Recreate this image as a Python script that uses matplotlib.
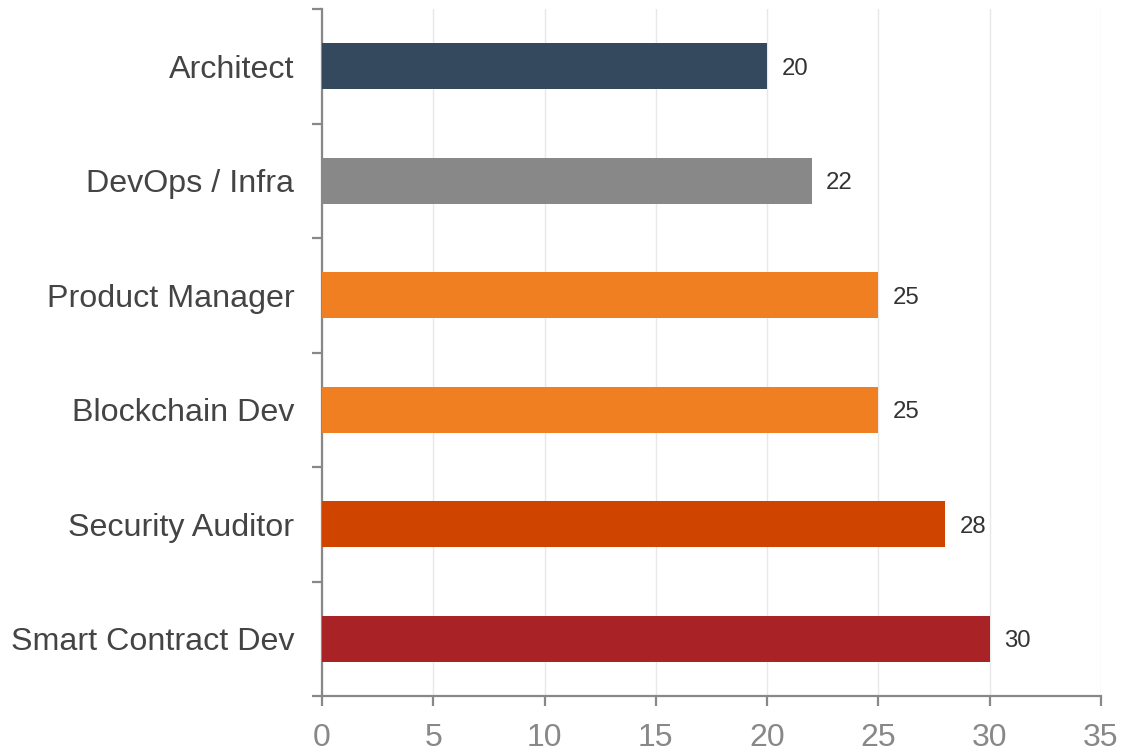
import matplotlib
matplotlib.use("Agg")
import matplotlib.pyplot as plt

roles = ["Architect", "DevOps / Infra", "Product Manager", "Blockchain Dev",
         "Security Auditor", "Smart Contract Dev"]
values = [20, 22, 25, 25, 28, 30]
colors = ["#34495e", "#888888", "#f07f22", "#f07f22", "#cf4500", "#a82226"]
x_ticks = [0, 5, 10, 15, 20, 25, 30, 35]

plt.rcParams["font.family"] = ["Liberation Sans", "DejaVu Sans"]

W, H = 1124, 751
fig = plt.figure(figsize=(W / 100, H / 100), dpi=100)
ax = fig.add_axes([322 / W, 1 - 696 / H, (1101 - 322) / W, (696 - 9) / H])

n = len(roles)
ypos = list(range(n))
ax.barh(ypos, values, height=0.4, color=colors, zorder=3)
for y, v in zip(ypos, values):
    ax.annotate(str(v), xy=(v, y), xytext=(10.5, 0), textcoords="offset points",
                va="center_baseline", ha="left", fontsize=17.3, color="#333333")

ax.set_xlim(0, 35)
ax.set_ylim(n - 0.5, -0.5)
ax.set_xticks(x_ticks)
ax.set_xticklabels([str(t) for t in x_ticks])
ax.set_yticks(ypos)
ax.set_yticklabels(roles)
ax.set_yticks([i - 0.5 for i in range(n + 1)], minor=True)

ax.tick_params(axis="y", which="major", length=0, pad=20,
               labelsize=23.2, labelcolor="#444444")
ax.tick_params(axis="y", which="minor", length=7, width=1.6, color="#888888")
ax.tick_params(axis="x", which="major", length=7, width=1.6, color="#888888",
               pad=12.5, labelsize=23, labelcolor="#888888")

ax.grid(axis="x", color="#e8e8e8", linewidth=1, zorder=0)
for side in ("top", "right"):
    ax.spines[side].set_visible(False)
for side in ("left", "bottom"):
    ax.spines[side].set_color("#888888")
    ax.spines[side].set_linewidth(1.6)

fig.savefig("out.png", dpi=100)
